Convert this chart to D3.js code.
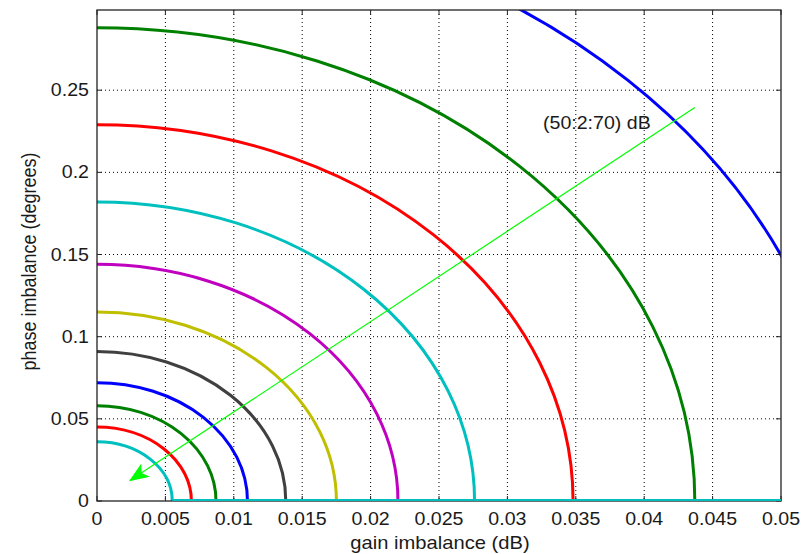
<!DOCTYPE html>
<html>
<head>
<meta charset="utf-8">
<script src="https://cdn.jsdelivr.net/npm/d3@7"></script>
<style>
  html, body { margin: 0; padding: 0; background: #fff; }
  svg text { font-family: "Liberation Sans", Arial, sans-serif; fill: #1a1a1a; }
</style>
</head>
<body>
<svg id="chart" width="811" height="554"></svg>
<script>
// image rejection contours, 50 dB (outer) to 70 dB (inner)
const levels = [50, 52, 54, 56, 58, 60, 62, 64, 66, 68, 70];
const gainIntercept = [0.0549, 0.0437, 0.0348, 0.0276, 0.0220, 0.0175, 0.0138, 0.0110, 0.0087, 0.0069, 0.0055];
const phaseIntercept = [0.362, 0.288, 0.229, 0.182, 0.144, 0.115, 0.091, 0.072, 0.058, 0.045, 0.036];
const colours = ['#0000ff', '#008000', '#ff0000', '#00bfbf', '#bf00bf', '#bfbf00', '#404040',
  '#0000ff', '#008000', '#ff0000', '#00bfbf'];
const baseTrace = [[0.0055, 0], [0.05, 0]];
const arrowFrom = [0.0437, 0.2395];
const arrowTo = [0.0024, 0.0124];
const noteText = '(50:2:70) dB';
const notePos = [0.0326, 0.2265];
const xTicks = [0, 0.005, 0.01, 0.015, 0.02, 0.025, 0.03, 0.035, 0.04, 0.045, 0.05];
const yTicks = [0, 0.05, 0.1, 0.15, 0.2, 0.25];

const margin = {left: 97, right: 30, top: 10, bottom: 53},
  width = 811 - margin.left - margin.right,
  height = 554 - margin.top - margin.bottom,
  stretch = 1.12; // the picture is a bit wider than tall

const x = d3.scaleLinear().domain([0, 0.05]).range([0, width]);
const y = d3.scaleLinear().domain([0, 0.2988]).range([height, 0]);

const svg = d3.select('#chart');
svg.append('defs').append('clipPath').attr('id', 'plotclip')
  .append('rect').attr('width', width).attr('height', height);

const marker = svg.select('defs').append('marker')
  .attr('id', 'head')
  .attr('viewBox', '0 0 20 16')
  .attr('refX', 19).attr('refY', 8)
  .attr('markerWidth', 20).attr('markerHeight', 16)
  .attr('markerUnits', 'userSpaceOnUse')
  .attr('orient', 'auto');
marker.append('path').attr('d', 'M0,0 L20,8 L0,16 L5,8 Z').attr('fill', '#00ff00');

const g = svg.append('g').attr('transform', `translate(${margin.left},${margin.top})`);

// grid
g.append('g').selectAll('line.gx')
  .data(xTicks.slice(1, -1)).enter().append('line')
  .attr('x1', (d) => x(d)).attr('x2', (d) => x(d))
  .attr('y1', 0).attr('y2', height)
  .attr('stroke', '#000').attr('stroke-width', 1).attr('stroke-dasharray', '1,3');
g.append('g').selectAll('line.gy')
  .data(yTicks.slice(1)).enter().append('line')
  .attr('x1', 0).attr('x2', width)
  .attr('y1', (d) => y(d)).attr('y2', (d) => y(d))
  .attr('stroke', '#000').attr('stroke-width', 1).attr('stroke-dasharray', '1,3');

// contours as quarter ellipses
const plot = g.append('g').attr('clip-path', 'url(#plotclip)');
plot.selectAll('path.contour')
  .data(levels).enter().append('path')
  .classed('contour', true)
  .attr('d', (_, i) => {
    const rx = x(gainIntercept[i]) - x(0), ry = y(0) - y(phaseIntercept[i]);
    return `M${x(gainIntercept[i])},${y(0)} A${rx},${ry} 0 0 0 ${x(0)},${y(phaseIntercept[i])}`;
  })
  .attr('fill', 'none')
  .attr('stroke', (_, i) => colours[i])
  .attr('stroke-width', 3);

// axes: ticks inward on all four sides
const tickLen = 5;
const axisG = g.append('g');
axisG.append('rect').attr('width', width).attr('height', height)
  .attr('fill', 'none').attr('stroke', '#222').attr('stroke-width', 1.3);
axisG.selectAll('line.xt').data(xTicks).enter().append('line')
  .attr('x1', (d) => x(d)).attr('x2', (d) => x(d))
  .attr('y1', height).attr('y2', height - tickLen).attr('stroke', '#222');
axisG.selectAll('line.xt2').data(xTicks).enter().append('line')
  .attr('x1', (d) => x(d)).attr('x2', (d) => x(d))
  .attr('y1', 0).attr('y2', tickLen).attr('stroke', '#222');
axisG.selectAll('line.yt').data(yTicks).enter().append('line')
  .attr('x1', 0).attr('x2', tickLen)
  .attr('y1', (d) => y(d)).attr('y2', (d) => y(d)).attr('stroke', '#222');
axisG.selectAll('line.yt2').data(yTicks).enter().append('line')
  .attr('x1', width).attr('x2', width - tickLen)
  .attr('y1', (d) => y(d)).attr('y2', (d) => y(d)).attr('stroke', '#222');

// trace lying along the gain axis
g.append('path')
  .attr('d', d3.line().x((d) => x(d[0])).y((d) => y(d[1]) - 1)(baseTrace))
  .attr('fill', 'none').attr('stroke', '#00bfbf').attr('stroke-width', 2);

axisG.selectAll('text.xl').data(xTicks).enter().append('text')
  .attr('transform', (d) => `translate(${x(d)},${height + 24}) scale(${stretch},1)`)
  .attr('text-anchor', 'middle').style('font-size', '17.5px')
  .text((d) => d3.format('~g')(d));
axisG.selectAll('text.yl').data(yTicks).enter().append('text')
  .attr('transform', (d) => `translate(-8,${y(d) + 6}) scale(${stretch},1)`)
  .attr('text-anchor', 'end').style('font-size', '17.5px')
  .text((d) => d3.format('~g')(d));

g.append('text')
  .attr('transform', `translate(${width / 2 + 1},${height + 48}) scale(${stretch},1)`)
  .attr('text-anchor', 'middle').style('font-size', '18px')
  .text('gain imbalance (dB)');
g.append('text')
  .attr('transform', `translate(${-61},${height / 2 + 6}) scale(${stretch},1) rotate(-90)`)
  .attr('text-anchor', 'middle').style('font-size', '18px')
  .text('phase imbalance (degrees)');

// annotation
g.append('line')
  .attr('x1', x(arrowFrom[0])).attr('y1', y(arrowFrom[1]))
  .attr('x2', x(arrowTo[0])).attr('y2', y(arrowTo[1]))
  .attr('stroke', '#00ff00').attr('stroke-width', 1.2)
  .attr('marker-end', 'url(#head)');
g.append('text')
  .attr('transform', `translate(${x(notePos[0])},${y(notePos[1])}) scale(${stretch},1)`)
  .style('font-size', '17.5px')
  .text(noteText);
</script>
</body>
</html>
